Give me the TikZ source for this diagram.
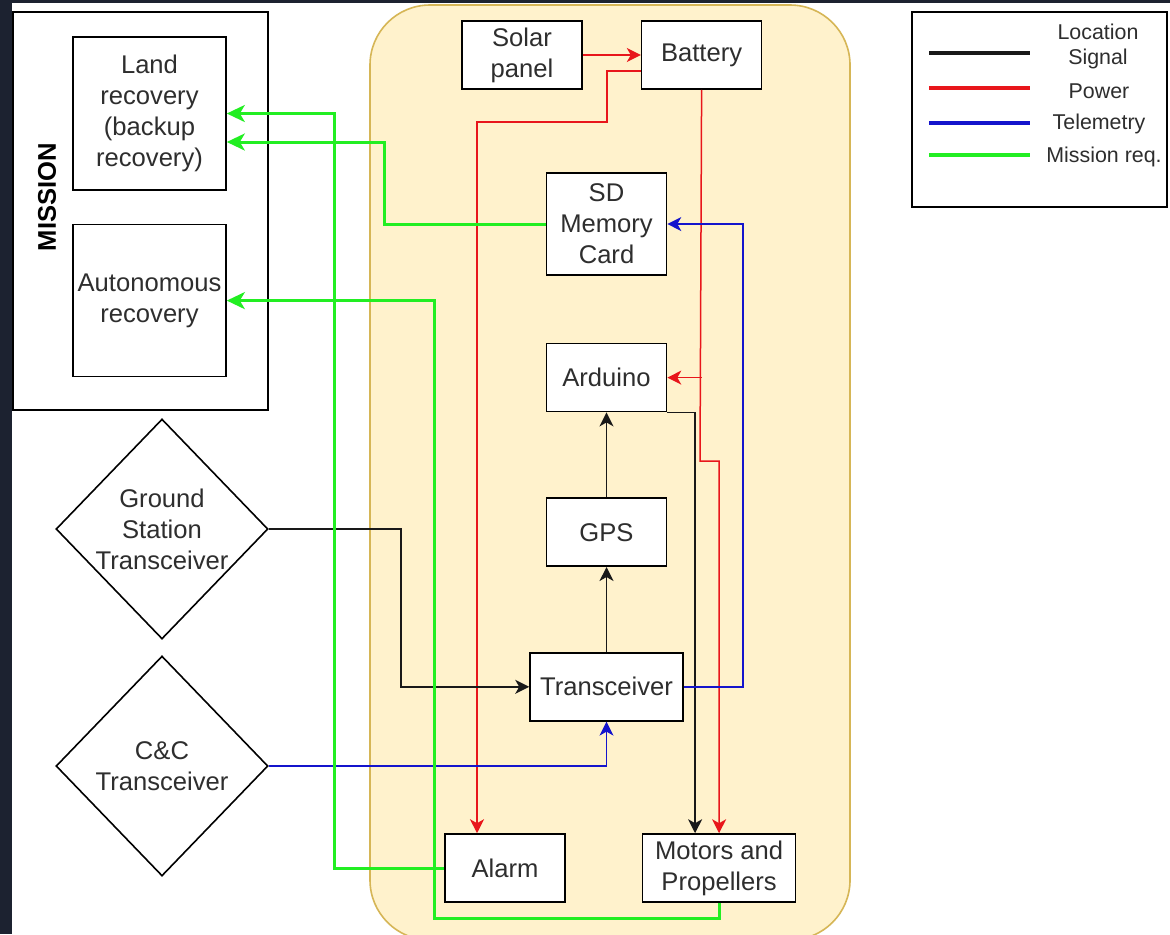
\documentclass[tikz,border=0pt]{standalone}
\usepackage{fontspec}
\setmainfont{Liberation Sans}
\usetikzlibrary{arrows.meta,positioning,shapes.geometric}
\definecolor{cyel}{HTML}{FFF2CC}
\definecolor{cyeldraw}{HTML}{D6B656}
\definecolor{cred}{HTML}{E8161B}
\definecolor{cblue}{HTML}{1414CC}
\definecolor{cgreen}{HTML}{22EE22}
\definecolor{cdark}{HTML}{1C2230}
\definecolor{ctext}{HTML}{2E2E2E}
\begin{document}
\begin{tikzpicture}[x=0.5pt,y=-0.5pt,
  font=\fontsize{12.8}{15.5}\selectfont,
  box/.style={draw,fill=white,text=ctext,align=center,inner sep=1pt,minimum width=60pt,minimum height=34pt,line width=0.8pt},
  dia/.style={draw,fill=white,diamond,minimum width=106pt,minimum height=110pt,inner sep=0pt,line width=0.8pt},
  sig/.style={-{Stealth[length=7pt,width=7pt,inset=2pt]},line width=0.75pt,draw=black!90},
  pwr/.style={sig,draw=cred},
  tel/.style={sig,draw=cblue},
  req/.style={-{Stealth[length=9pt,width=8.5pt,inset=2.5pt]},line width=1.5pt,draw=cgreen},
  key/.style={line width=1.6pt}]
  \useasboundingbox (0,0) rectangle (1170,934);
  \clip (0,0) rectangle (1170,934);
  \fill[white] (0,0) rectangle (1170,934);
  \fill[cdark] (0,0) rectangle (1170,3);
  \fill[cdark] (0,0) rectangle (12,934);
  % containers
  \node[draw=cyeldraw,fill=cyel,rounded corners=30pt,minimum width=240pt,minimum height=467.5pt,line width=0.8pt] (pod) at (610,472.5) {};
  \node[draw,fill=white,minimum width=127.5pt,minimum height=199pt,line width=0.8pt] (mission) at (140.5,211) {};
  \node[rotate=90,font=\bfseries\fontsize{12.8}{15}\selectfont] (mtitle) at (47,197) {MISSION};
  % mission requirements
  \node[box,minimum width=76.5pt,minimum height=76.5pt] (land) at (149.5,113.5) {Land\\recovery\\(backup\\recovery)};
  \node[box,minimum width=76.5pt,minimum height=76pt,below=16.5pt of land] (auto) {Autonomous\\recovery};
  % ground side
  \node[dia] (gst) at (162,529) {};
  \node[align=center,text=ctext] (gsttxt) at (gst) {Ground\\Station\\Transceiver};
  \node[dia] (cc) at (162,766) {};
  \node[align=center,text=ctext] (cctxt) at (cc) {C\&C\\Transceiver};
  % on board
  \node[box] (solar) at (522,55) {Solar\\panel};
  \node[box,right=29pt of solar] (battery) {Battery};
  \node[box,minimum height=51pt] (sd) at (606.5,224) {SD\\Memory\\Card};
  \node[box,below=33.5pt of sd] (arduino) {Arduino};
  \node[box,below=42.5pt of arduino] (gps) {GPS};
  \node[box,minimum width=76.5pt,below=42.5pt of gps] (trx) {Transceiver};
  \node[box] (alarm) at (505,868) {Alarm};
  \node[box,minimum width=76.5pt,right=38pt of alarm] (motors) {Motors and\\Propellers};
  % legend
  \node[draw,fill=white,minimum width=127.5pt,minimum height=97.5pt,line width=0.8pt] (legend) at (1039.5,109.5) {};
  \draw[key,black!90] (929,53) -- (1030,53);
  \draw[key,cred] (929,88) -- (1030,88);
  \draw[key,cblue] (929,123) -- (1030,123);
  \draw[key,cgreen] (929,155) -- (1030,155);
  \begin{scope}[font=\fontsize{10.7}{12.5}\selectfont,text=ctext]
    \node[align=center] (klocation) at (1098,46) {Location\\Signal};
    \node (kpower) at (1099,91) {Power};
    \node (ktelemetry) at (1099,124) {Telemetry};
    \node (kmission) at (1104,157) {Mission req.};
  \end{scope}
  % power
  \draw[pwr] (solar) -- (battery);
  \draw[pwr] ([yshift=-8pt]battery.west) -| (607,122) -| ([xshift=-14pt]alarm.north);
  \draw[pwr] (battery.south) -- (700,461) -| (motors.north);
  \draw[pwr] (battery.south |- arduino) -- (arduino.east);
  % location signal
  \draw[sig] (gps) -- (arduino);
  \draw[sig] (trx) -- (gps);
  \draw[sig] (arduino.south east) -| ([xshift=-12pt]motors.north);
  \draw[sig] (gst.east) -- ++(66pt,0) |- (trx.west);
  % telemetry
  \draw[tel] (cc.east) -| (trx.south);
  \draw[tel] (trx.east) -- ++(29.5pt,0) |- (sd.east);
  % mission req.
  \draw[req] (sd.west) -- ++(-80.5pt,0) |- ([yshift=-14.25pt]land.east);
  \draw[req] (alarm.west) -- ++(-55pt,0) |- (land.east);
  \draw[req] (motors.south) -- ++(0,-8pt) -| ([xshift=104pt]auto.east) -- (auto.east);
\end{tikzpicture}
\end{document}
